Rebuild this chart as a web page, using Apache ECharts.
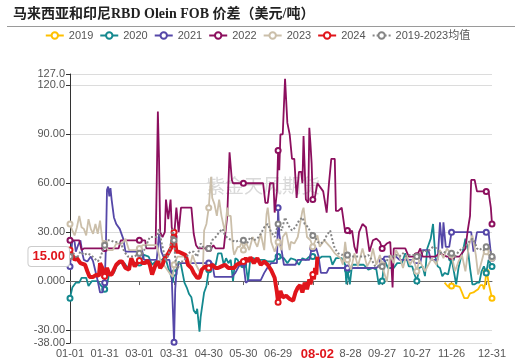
<!DOCTYPE html>
<html><head><meta charset="utf-8">
<script src="https://cdn.jsdelivr.net/npm/echarts@6/dist/echarts.min.js"></script>
<style>html,body{margin:0;padding:0;background:#fff}#c{width:515px;height:363px}</style>
</head><body><div id="c"></div>
<script>
// categories: month-day of a (leap) year
const categories = [];
const monthDays = [31,29,31,30,31,30,31,31,30,31,30,31];
for (let m = 0; m < 12; m++) for (let d = 1; d <= monthDays[m]; d++)
  categories.push(String(m + 1).padStart(2, '0') + '-' + String(d).padStart(2, '0'));

const yTicks = [-38, -30, 0, 30, 60, 90, 120, 127];
const legendNames = ['2019','2020','2021','2022','2023','2024','2019-2023均值'];
const pointerDay = 214;   // 08-02
const pointerValue = 15;

// [day index, value]
const s2019 = [[324,-1],[327,-3.5],[330,-3],[334,-3],[337,-3.5],[339,-7],[341,-10.5],[344,-10.5],[346,-7.5],[349,-7],[351,-6],[353,-5],[355,-2.5],[357,-2.5],[358,-5],[359,-2],[360,5.5],[361,4],[362,-1],[363,-1],[365,-10.5]];

const s2020 = [[0,-10.5],[2,-4],[5,-1],[8,-1],[10,2],[14,2],[16,-3],[19,0],[24,0],[27,-3],[30,-5],[32,-2],[34,5],[38,5],[40,9],[43,11],[47,11],[50,8],[53,13],[56,11],[60,11],[64,16],[68,15],[71,10],[74,12],[78,12],[81,14],[83,13],[85,8],[87,4],[89,-1],[90,5],[92,7],[94,12],[96,10],[99,-1],[101,-4],[103,-8],[105,-10],[107,-18],[109,-20],[110,-17],[112,-31],[113,-22],[115,-12],[116,-7],[118,-3],[120,7],[122,10],[126,10],[128,17],[131,17],[133,10],[135,14],[137,11],[139,13],[141,0],[143,14],[145,13],[147,10],[150,10],[152,10],[154,0],[156,14],[159,14],[162,12],[165,13],[168,13],[171,12],[176,12],[178,14],[180,15],[185,14],[188,11],[191,14],[195,13],[198,10],[201,14],[204,13],[207,15],[210,15],[214,13],[218,15],[222,15],[225,15],[227,10],[230,14],[235,14],[238,10],[239,-2],[240,7],[242,-2],[244,10],[250,10],[254,10],[258,7],[262,8],[265,7],[267,-2],[270,0],[272,13],[275,8],[280,8],[283,11],[287,11],[290,17],[293,9],[296,9],[298,4],[300,0],[302,8],[305,9],[307,3],[309,20],[312,26],[314,35],[316,15],[318,9],[320,8],[322,3],[324,5],[327,4],[330,14],[332,6],[334,-2],[336,8],[338,14],[340,19],[342,26],[344,20],[346,8],[348,-2],[350,-2],[352,-1],[354,-1],[356,6],[358,9],[360,5],[362,13],[365,9]];

const s2021 = [[0,9],[2,25],[4,24],[5,18],[7,22],[9,25],[11,16],[12,13],[15,12],[18,15],[20,12],[22,6],[24,0],[26,-7],[28,-7],[30,-1],[31,20],[32,56],[33,58],[34,52],[35,57],[36,50],[38,39],[40,35],[43,32],[46,26],[48,18],[55,18],[58,18],[60,17],[62,20],[64,13],[70,13],[75,13],[77,29],[79,18],[82,13],[86,13],[88,2],[89,2],[90,-37.5],[91,-5],[92,5],[94,11],[100,11],[110,11],[120,11],[123,11],[125,2.5],[140,2.5],[143,5],[146,9],[150,11],[152,-1],[155,0.5],[160,0.5],[165,0.5],[168,5],[171,8.5],[174,11],[179,11],[180,45],[181,29],[183,19],[185,10],[195,10],[197,13],[207,13],[209,20],[210,20],[213,20],[215,15],[217,5],[222,5],[224,8],[235,8],[240,8],[245,8],[248,8],[255,8],[260,8],[265,8],[268,10],[270,12],[272,15],[282,15],[285,13],[297,13],[298,11],[303,11],[305,19],[310,19],[312,13],[318,13],[320,36],[321,28],[322,20],[323,36],[325,21],[328,21],[330,30],[347,30],[349,18],[352,30],[360,30],[362,30],[364,17],[365,14]];

const s2022 = [[0,25],[8,25],[10,19],[12,20],[30,20],[42,20],[44,25],[60,25],[65,25],[66,20],[74,20],[75,60],[76,104],[77,75],[78,30],[80,27],[82,30],[83,50],[85,38],[87,50],[88,33],[90,27],[92,45],[94,30],[96,45],[105,45],[107,29],[109,22],[111,20],[120,20],[122,20],[124,22],[126,20],[133,20],[136,40],[138,79],[140,62],[141,60],[150,60],[167,60],[169,48],[171,48],[173,60],[176,60],[177,42],[179,55],[180,80],[181,68],[182,90],[184,90],[186,124],[187,124],[188,97],[190,90],[192,75],[194,75],[196,51],[198,67],[200,67],[201,60],[202,89],[204,50],[206,48],[207,94],[208,84],[209,72],[210,50],[212,52],[214,60],[217,57],[219,55],[222,42],[224,60],[226,75],[229,75],[230,43],[232,43],[235,45],[236,45],[238,30],[240,31],[242,29],[244,31],[246,21],[248,17],[250,30],[253,35],[256,33],[259,18],[262,25],[265,26],[268,24],[270,20],[274,23],[277,24],[279,-4],[280,20],[285,20],[290,20],[293,15],[297,15],[300,15.5],[303,20],[305,15],[311,15],[316,15],[320,17],[326,15],[330,15],[337,15],[340,18],[342,20],[344,31],[346,40],[347,62],[350,62],[352,55],[360,55],[362,55],[364,45],[365,35]];

const s2023 = [[0,35],[2,31],[4,28],[6,33],[8,40],[10,33],[12,32],[14,28],[16,38],[18,32],[20,29],[22,35],[24,29],[26,37],[28,25],[30,23],[33,19],[37,19],[40,23],[45,23],[48,26],[51,19],[57,19],[60,20],[63,22],[75,22],[78,13],[83,8],[86,5],[89,2.5],[90,10],[91,12],[93,15],[101,15],[104,10],[106,16],[109,10],[112,6],[115,8],[116,31],[118,35],[120,45],[122,64],[123,51],[125,47],[127,40],[129,50],[131,40],[134,30],[136,45],[137,40],[139,40],[141,20],[142,16],[145,21],[147,21],[149,25],[150,19],[152,24],[155,19],[158,27],[162,21],[165,29],[168,19],[170,41],[171,45],[172,39],[174,24],[177,18],[180,24],[183,19],[184,27],[187,30],[190,19],[191,24],[194,23],[197,27],[201,43],[202,45],[205,27],[208,25],[210,21],[214,28],[216,21],[220,25],[225,21],[229,17],[234,14],[236,10],[238,24],[240,13],[243,7],[246,17],[249,9],[253,20],[257,9],[260,13],[262,20],[265,10],[268,16],[270,10],[271,7],[274,-0.5],[277,16],[280,11],[282,19],[285,15],[288,8],[291,16],[294,10],[297,14],[300,6],[302,13],[307,6],[310,10],[313,14],[317,10],[320,19],[323,14],[326,20],[330,16],[333,6],[336,12],[339,16],[342,6],[345,22],[348,28],[351,16],[353,4],[356,12],[359,20],[360,18],[362,16],[365,14]];

const s2024 = [[0,19],[1,18],[4,13],[6,14],[9,11],[13,10],[15,6],[17,2.5],[20,2.5],[23,4],[25,3],[26,11],[28,8],[29,2],[30,3],[32,8],[34,4],[36,4],[38,7],[40,10],[43,12],[45,12],[48,8],[51,7],[53,14],[56,9],[58,11],[60,12.6],[63,11],[65,11],[67,12.6],[69,10],[71,4],[74,10],[76,12],[78,8],[80,10],[82,14],[85,17],[88,21],[89,27],[90,30],[91,24],[92,18],[94,18],[97,17],[100,16],[102,10],[105,8],[107,5],[110,2],[112,2],[114,7],[117,9],[120,8],[123,10],[126,8],[128,8],[131,9],[134,10],[137,8],[140,8],[142,8],[144,10],[147,11],[149,11.6],[150,12],[152,14],[154,12],[156,14.5],[159,11],[162,14],[165,10],[168,12],[171,10],[174,6.7],[177,2],[179,-7],[180,-13],[182,-6],[184,-10],[187,-9],[190,-11],[193,-12],[195,-7],[197,-4],[199,-2.5],[201,-7],[203,-1],[205,-5],[207,1],[208,-2],[210,4],[211,1],[212,8],[213,4],[214,15]];

const sAvg = [[0,15],[3,17],[6,14],[9,18],[12,16],[15,17],[18,16],[21,14],[24,12],[26,14],[28,18],[30,22],[32,25],[35,25],[38,24],[41,24],[44,23],[47,18],[50,15],[53,15],[56,15],[59,17],[60,17],[63,17],[66,22],[69,27],[72,27],[75,27],[77,32],[79,24],[81,18],[83,12],[86,18],[88,27],[89,32],[90,25],[91,14],[93,7],[95,12],[98,12],[101,15],[104,18],[107,18],[110,15],[113,23],[116,20],[119,20],[120,20],[121,21],[123,25],[126,27],[129,30],[132,32],[134,28],[137,26],[140,25],[143,24],[146,25],[149,24],[150,25],[153,23],[156,27],[159,25],[162,26],[165,29],[168,33],[171,35],[174,30],[177,27],[180,35],[183,31],[186,39],[189,34],[192,31],[195,33],[198,37],[201,39],[203,35],[206,33],[208,30],[210,28],[212,27],[214,24],[217,23],[220,25],[222,28],[225,31],[227,25],[229,20],[232,17],[235,16],[238,17],[240,16],[245,15],[250,15],[255,15],[258,16],[261,13],[264,9],[267,9],[270,9],[273,11],[276,15],[279,15],[282,16],[285,15],[288,17],[291,15],[294,16],[297,16],[300,15],[303,16],[306,19],[309,18],[311,19],[314,21],[317,20],[320,17],[323,18],[326,17],[329,16],[330,17],[333,15],[336,18],[339,20],[342,21],[345,24],[348,26],[350,24],[352,20],[354,19],[356,20],[358,19],[360,21],[362,21],[364,18],[365,15]];

const seriesData = [s2019, s2020, s2021, s2022, s2023, s2024, sAvg];
const colors = ['#FFC000','#14898F','#5547A8','#8C0F5E','#CBBFAA','#E0151B','#858585'];

const FONT = '"Liberation Sans","Noto Sans CJK SC",sans-serif';
const chart = echarts.init(document.getElementById('c'), null, {renderer: 'canvas'});

const series = seriesData.map((d, i) => ({
  name: legendNames[i],
  type: 'line',
  data: d,
  xAxisIndex: 0,
  symbol: 'emptyCircle',
  symbolSize: 5,
  showAllSymbol: 'auto',
  color: colors[i],
  lineStyle: {
    width: i === 5 ? 4 : (i === 6 ? 2 : 1.8),
    type: i === 6 ? 'dotted' : 'solid',
    color: colors[i]
  },
  itemStyle: {color: colors[i], borderWidth: 1},
  z: 2 + i,
  emphasis: {disabled: true}
}));

chart.setOption({
  animation: false,
  textStyle: {fontFamily: FONT},
  color: colors,
  title: {
    text: '马来西亚和印尼RBD Olein FOB 价差（美元/吨）',
    left: 13, top: 7, padding: 0,
    textStyle: {fontSize: 14, fontWeight: 'bold', color: '#222',
      fontFamily: '"Liberation Serif","Noto Sans CJK SC",serif'}
  },
  legend: {
    data: legendNames,
    top: 30, left: 'center', padding: 0,
    itemWidth: 18, itemHeight: 8, itemGap: 6,
    textStyle: {fontSize: 11, color: '#555', fontFamily: FONT}
  },
  grid: {left: 70, right: 23, top: 74, bottom: 20, containLabel: false},
  xAxis: [{
    type: 'category', data: categories, boundaryGap: false,
    axisLine: {show: false, onZero: false},
    axisTick: {show: false},
    axisLabel: {interval: 29, showMaxLabel: true, color: '#555', fontSize: 11, margin: 5},
    splitLine: {show: false},
    axisPointer: {
      show: true, status: 'show', value: pointerDay, type: 'line', snap: false,
      triggerTooltip: false,
      lineStyle: {opacity: 0},
      label: {show: true, color: '#E0151B', fontWeight: 'bold', fontSize: 13,
        backgroundColor: '#fff', padding: [2, 5], margin: 3, shadowBlur: 0}
    }
  }, {
    type: 'category', data: categories, boundaryGap: false, position: 'bottom',
    axisLine: {show: true, onZero: true, lineStyle: {color: '#666', width: 1}},
    axisTick: {show: true, interval: 29, length: 4, lineStyle: {color: '#666'}},
    axisLabel: {show: false},
    splitLine: {show: false}
  }],
  yAxis: {
    type: 'value', min: -38, max: 127,
    axisLine: {show: true, lineStyle: {color: '#333'}},
    axisTick: {show: true, length: 4, customValues: yTicks, lineStyle: {color: '#333'}},
    axisLabel: {customValues: yTicks, formatter: v => Number(v).toPrecision(4), color: '#555', fontSize: 11, margin: 5},
    splitLine: {show: true, lineStyle: {color: '#dcdcdc'}},
    axisPointer: {
      show: true, status: 'show', value: pointerValue, type: 'line', snap: false,
      triggerTooltip: false,
      lineStyle: {opacity: 0},
      label: {show: true, formatter: p => Number(p.value).toPrecision(4),
        color: '#E0151B', fontWeight: 'bold', fontSize: 13,
        backgroundColor: '#fff', borderColor: '#ccc', borderWidth: 1, padding: [3, 4], margin: 1, shadowBlur: 0}
    }
  },
  axisPointer: {triggerOn: 'none'},
  graphic: [
    {type: 'line', silent: true, shape: {x1: 7, y1: 26.5, x2: 515, y2: 26.5}, style: {stroke: '#9a9a9a', lineWidth: 1}},
    {type: 'text', silent: true, left: 206, top: 176, z: 0,
      style: {text: '紫金天风期货', font: '19px "Noto Sans CJK SC"', fill: '#d9d9d9'}}
  ],
  series: series
});
</script>
</body></html>
